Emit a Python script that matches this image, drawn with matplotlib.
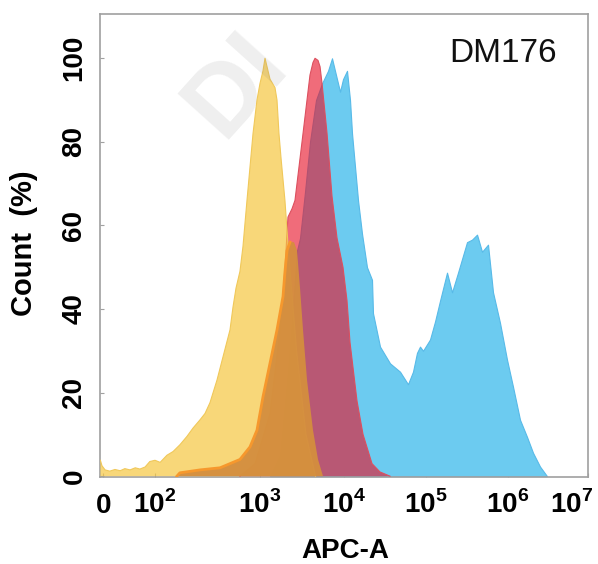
import numpy as np
import matplotlib
matplotlib.use("Agg")
import matplotlib.pyplot as plt
from matplotlib.transforms import ScaledTranslation

plt.rcParams["font.family"] = ["Liberation Sans", "DejaVu Sans"]
plt.rcParams["mathtext.fontset"] = "custom"
plt.rcParams["mathtext.rm"] = "Liberation Sans"
plt.rcParams["mathtext.bf"] = "Liberation Sans:bold"

# ---------------- data (APC-A intensity, Count %) ----------------
yellow_x = [-5, -2, 4, 13, 23, 33, 42, 52, 62, 71, 81, 90, 100, 112, 130, 149, 173,
            202, 231, 270, 301, 336, 392, 448, 522, 558, 596, 650, 695, 759, 867,
            946, 1014, 1100, 1162, 1227, 1331, 1524, 1611, 1700, 1800, 2000, 2200,
            2750, 3550, 4600]
yellow_y = [3.8, 2.5, 1.5, 1.2, 1.6, 1.3, 1.8, 1.5, 2.0, 1.7, 2.2, 3.5, 3.8, 3.3, 5.0,
            5.9, 7.5, 9.5, 11.5, 13.5, 15, 17.6, 23, 28.6, 35, 40.5, 45, 49, 55, 66,
            82, 90, 94, 97, 100, 98, 95, 93, 90, 82, 76, 66, 54, 30, 10, 0]

red_x = [650, 906, 1331, 1750, 2003, 2115, 2173, 2427, 2630, 2855, 3186, 3551, 3959,
         4297, 4541, 4924, 5205, 5495, 6300, 7211, 8265, 9730, 10880, 11840, 14410,
         17060, 21950, 27490, 36400]
red_y = [0, 3, 15, 35, 50, 58, 62, 64, 66, 72, 80, 88, 96, 99, 100, 99.5, 98, 94, 82,
         67, 57, 50, 42, 32, 18, 10, 3, 1, 0]

blue_x = [1331, 1750, 2173, 2489, 2781, 3017, 3454, 3959, 4663, 5495, 6470, 7211, 8040,
          8972, 9730, 10880, 11840, 12530, 13630, 14830, 16590, 19070, 21950, 22570,
          27490, 36400, 48200, 60300, 69400, 77600, 84500, 91900, 111900, 128800,
          148300, 180400, 207600, 245600, 316200, 363900, 419000, 482200, 570400,
          656600, 798600, 972000, 1155000, 1413000, 1728000, 2054000, 2512000, 3073000]
blue_y = [0, 5, 25, 40, 54, 57, 68, 80, 90, 94, 97, 100, 96, 92, 95, 97, 90, 82, 74,
          66, 58, 50, 47, 39, 31, 27, 25, 22, 25, 29.5, 31, 30, 32.7, 37, 42, 48.7,
          44, 48.7, 56, 56.6, 57.8, 53.7, 55.4, 44, 36.7, 27.9, 21.4, 13.5, 9.4, 5.6,
          2.3, 0]

orange_x = [162, 173, 270, 419, 650, 811, 946, 1100, 1331, 1611, 1898, 2003, 2115, 2296,
            2561, 2781, 3017, 3273, 3651, 4297, 4924, 5642]
orange_y = [0, 0.8, 1.5, 2, 4, 7, 11, 19, 27, 35, 43, 49, 54, 56, 56, 54, 45, 35, 23,
            11, 4, 0]

tick_values = [0, 1e2, 1e3, 1e4, 1e5, 1e6, 1e7]
tick_labels = [r"$\mathbf{0}$", r"$\mathbf{10}^{\mathbf{2}}$", r"$\mathbf{10}^{\mathbf{3}}$",
               r"$\mathbf{10}^{\mathbf{4}}$", r"$\mathbf{10}^{\mathbf{5}}$",
               r"$\mathbf{10}^{\mathbf{6}}$", r"$\mathbf{10}^{\mathbf{7}}$"]
y_ticks = [0, 20, 40, 60, 80, 100]

# ---------------- biexponential-like axis scale ----------------
DEC_LOG = np.array([2, 3, 4, 5, 6, 7], float)
DEC_POS = np.array([55, 159.5, 244, 326, 408, 488], float)


def fwd(v):
    v = np.atleast_1d(np.asarray(v, float))
    out = np.empty_like(v)
    lin = ~(v > 100)
    out[lin] = 3 + v[lin] * 0.52
    lv = np.log10(np.where(lin, 100.0, v))
    out[~lin] = np.interp(lv[~lin], DEC_LOG, DEC_POS) + np.maximum(lv[~lin] - 7, 0) * 80
    return out


def inv(p):
    p = np.atleast_1d(np.asarray(p, float))
    out = np.empty_like(p)
    lin = ~(p > 55)
    out[lin] = (p[lin] - 3) / 0.52
    pp = np.where(lin, 55.0, p)
    lv = np.interp(pp, DEC_POS, DEC_LOG) + np.maximum(pp - 488, 0) / 80
    out[~lin] = 10 ** lv[~lin]
    return out


fig = plt.figure(figsize=(5.98, 5.64), dpi=100)
ax = fig.add_axes([100 / 598, 87 / 564, 488 / 598, 463 / 564])
ax.set_xscale("function", functions=(fwd, inv))
ax.set_xlim(float(inv(0)[0]), 1e7)
ax.set_ylim(-0.2, 110.6)

ax.fill_between(blue_x, blue_y, 0, facecolor=(108/255, 203/255, 240/255),
                edgecolor=(88/255, 186/255, 232/255), linewidth=0.8, zorder=2)
ax.fill_between(red_x, red_y, 0, facecolor=(231/255, 18/255, 40/255), alpha=0.62,
                edgecolor="none", zorder=3)
ax.plot(red_x, red_y, color=(220/255, 80/255, 95/255), lw=0.8, zorder=3)
ax.fill_between(yellow_x, yellow_y, 0, facecolor=(246/255, 199/255, 65/255), alpha=0.7,
                edgecolor="none", zorder=4)
ax.plot(yellow_x, yellow_y, color=(240/255, 200/255, 90/255), lw=0.8, zorder=4)
ax.fill_between(orange_x, orange_y, 0, facecolor=(212/255, 142/255, 62/255), alpha=0.95,
                edgecolor="none", zorder=5)
ax.plot(orange_x[:14], orange_y[:14], color=(246/255, 152/255, 45/255), lw=2.0, zorder=5)

for s in ax.spines.values():
    s.set_color("#a0a0a0")
    s.set_linewidth(1.2)

ax.set_xticks(tick_values, labels=tick_labels)
ax.tick_params(axis="x", direction="in", length=3, color="#a0a0a0", pad=26,
               labelsize=20)
for lab in ax.get_xticklabels():
    lab.set_va("baseline")
last = ax.get_xticklabels()[-1]
last.set_ha("right")
last.set_transform(last.get_transform() + ScaledTranslation(5 / 100, 0, fig.dpi_scale_trans))

ax.set_yticks(y_ticks, labels=[str(t) for t in y_ticks], rotation=90, va="center",
              fontweight="bold")
ax.tick_params(axis="y", direction="in", length=3, color="#a0a0a0", pad=9, labelsize=20)

ax.text(0.715, 0.896, "DM176", transform=ax.transAxes, ha="left", va="baseline",
        fontsize=24, color="#111111")

fig.text(24 / 598, 1 - 243 / 564, "Count  (%)", rotation=90, ha="center", va="center",
         fontsize=21, fontweight="bold")
fig.text(345 / 598, (564 - 558) / 564, "APC-A", ha="center", va="baseline",
         fontsize=20, fontweight="bold")

# faint watermark
fig.text(222 / 598, 1 - 140 / 564, "DI", rotation=48, rotation_mode="anchor",
         ha="left", va="baseline", fontsize=72, fontweight="bold", color="#777777",
         alpha=0.12, zorder=10)

fig.savefig("out.png", dpi=100)
